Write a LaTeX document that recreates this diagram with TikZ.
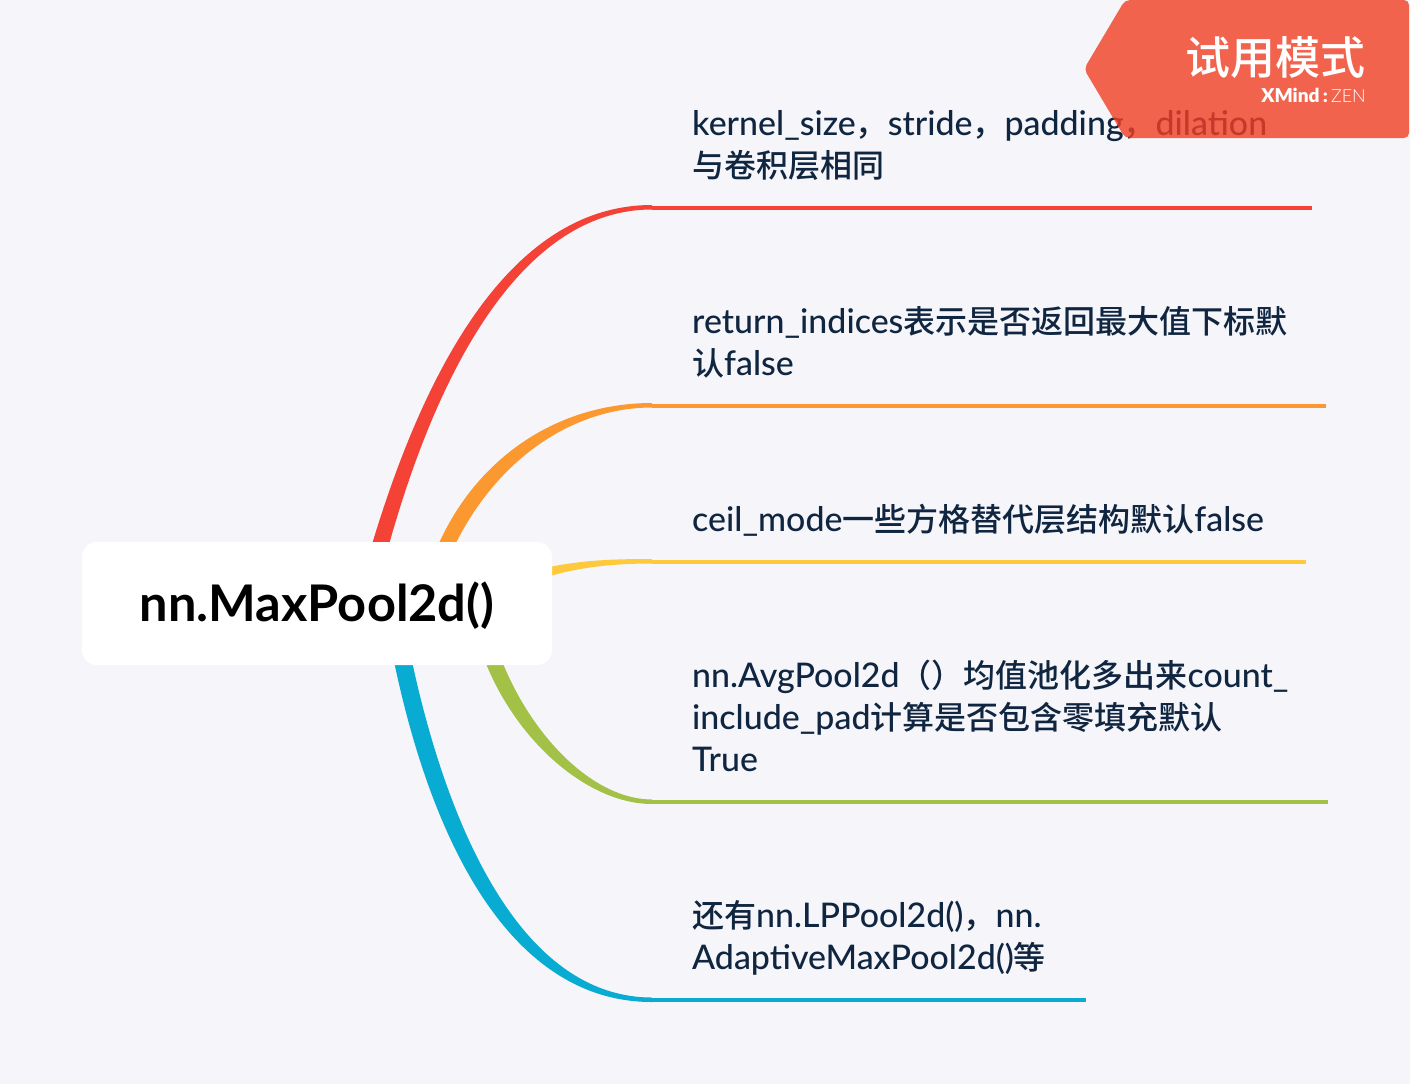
\documentclass[tikz,border=0pt]{standalone}
\usepackage{fontspec}
\setmainfont[Scale=1.06]{Lato Medium}
\newfontfamily\titlef{Lato Bold}
\newfontfamily\cjk{Noto Sans CJK SC Medium}
\newfontfamily\lightf{Lato Light}
\definecolor{bgc}{HTML}{F5F5FA}
\definecolor{ink}{HTML}{0F2540}
\definecolor{cred}{HTML}{F44336}
\definecolor{corange}{HTML}{FB9930}
\definecolor{cyellow}{HTML}{FFC93C}
\definecolor{cgreen}{HTML}{A2C146}
\definecolor{cblue}{HTML}{08ABD1}
\definecolor{badge}{HTML}{F23F24}
\tikzset{
  x=1pt,y=-1pt,
  topic/.style={anchor=north west,inner sep=0pt,align=left,text width=640pt,text=ink,font=\fontsize{32}{42}\selectfont},
  rule/.style={line width=4pt},
  rootbox/.style={fill=white,rounded corners=15pt,minimum width=470pt,minimum height=123pt,inner sep=0pt,text=black,font=\fontsize{50.5}{60}\titlef}
}
\begin{document}
\begin{tikzpicture}
\useasboundingbox[fill=bgc] (0,0) rectangle (1410,1084);
\coordinate (e1) at (652,207.5); \coordinate (f1) at (1312,207.5);
\coordinate (e2) at (652,405.5); \coordinate (f2) at (1326,405.5);
\coordinate (e3) at (652,561.5); \coordinate (f3) at (1306,561.5);
\coordinate (e4) at (652,801.5); \coordinate (f4) at (1328,801.5);
\coordinate (e5) at (652,999.5); \coordinate (f5) at (1086,999.5);
% tapered branches
\fill[cred] (370,552) -- (373,541) .. controls (425,370) and (510,205) .. (652,205) -- (652,209.5) .. controls (520,209.5) and (437,375) .. (390,541) -- (387,552) -- cycle;
\fill[corange] (433,552) -- (440,541) .. controls (480,455) and (560,403) .. (652,403) -- (652,407.5) .. controls (570,407.5) and (497,462) .. (457,541) -- (450,552) -- cycle;
\fill[cyellow] (540,569) -- (552,566.5) .. controls (585,560) and (615,559) .. (652,559) -- (652,563.5) .. controls (620,563.5) and (585,566) .. (552,575.5) -- (540,579) -- cycle;
\fill[cgreen] (483,655) -- (487,666) .. controls (520,745) and (590,804) .. (652,804) -- (652,799.5) .. controls (595,799.5) and (535,740) .. (504,666) -- (500,655) -- cycle;
\fill[cblue] (393,655) -- (395,666) .. controls (430,830) and (505,1002) .. (652,1002) -- (652,997.5) .. controls (520,997.5) and (448,825) .. (413,666) -- (411,655) -- cycle;
\draw[rule,cred] (e1) -- (f1);
\draw[rule,corange] (e2) -- (f2);
\draw[rule,cyellow] (e3) -- (f3);
\draw[rule,cgreen] (e4) -- (f4);
\draw[rule,cblue] (e5) -- (f5);
\node[rootbox] (root) at (317,603.5) {\raisebox{-2.5pt}[\height][\depth]{nn.MaxPool2d()}};
\node[topic] (t1) at (692,110) {kernel\_size{\cjk ，}stride{\cjk ，}padding{\cjk ，}dilation\\{\cjk 与卷积层相同}};
\node[topic] (t2) at (692,306) {return\_indices{\cjk 表示是否返回最大值下标默}\\{\cjk 认}false};
\node[topic] (t3) at (692,504) {ceil\_mode{\cjk 一些方格替代层结构默认}false};
\node[topic] (t4) at (692,660) {nn.AvgPool2d{\cjk （）均值池化多出来}count\_\\include\_pad{\cjk 计算是否包含零填充默认}\\True};
\node[topic] (t5) at (692,900) {{\cjk 还有}nn.LPPool2d(){\cjk ，}nn.\\AdaptiveMaxPool2d(){\cjk 等}};
% trial badge
\fill[badge,fill opacity=.8,rounded corners=5pt] (1125,0) -- (1409,0) -- (1409,138) -- (1125,138) -- (1084,69) -- cycle;
\node[anchor=base east,inner sep=0pt,text=white,font=\fontsize{45}{50}\cjk] (b1) at (1366,74) {试用模式};
\node[anchor=base east,inner sep=0pt,text=white,font=\fontsize{18}{20}\selectfont] (b2) at (1366,102) {\textbf{XMind}\,\textbf{:}\,{\lightf ZEN}};
\end{tikzpicture}
\end{document}
